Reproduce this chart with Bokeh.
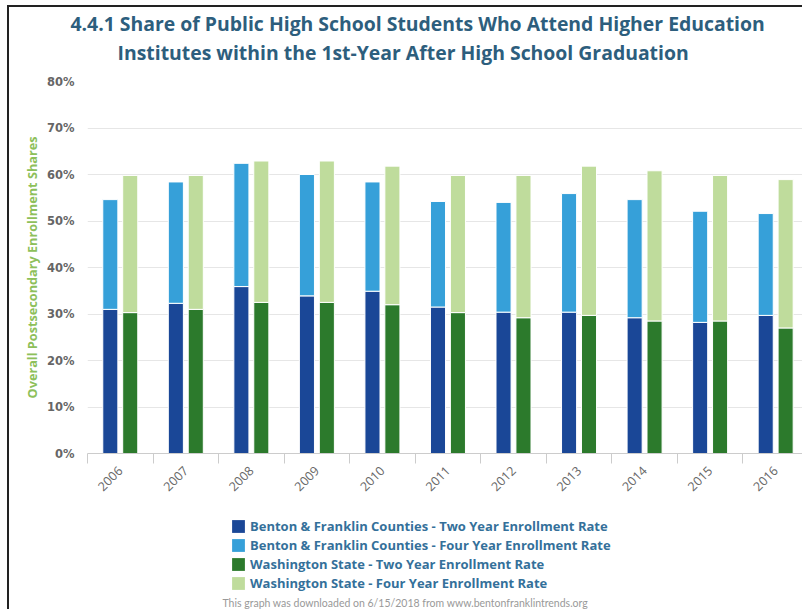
import numpy as np
from bokeh.plotting import figure
from bokeh.layouts import column
from bokeh.models import (ColumnDataSource, Range1d, FixedTicker, Legend, LegendItem,
                          Title, PrintfTickFormatter, Label)
from bokeh.transform import dodge
from bokeh.embed import file_html
from bokeh.resources import INLINE

years = ["2006", "2007", "2008", "2009", "2010", "2011", "2012", "2013", "2014", "2015", "2016"]
bf_two = [31.0, 32.3, 35.9, 33.9, 34.9, 31.5, 30.4, 30.4, 29.2, 28.2, 29.7]
bf_four = [23.6, 26.1, 26.5, 26.1, 23.5, 22.7, 23.6, 25.5, 25.4, 23.9, 21.9]
wa_two = [30.3, 31.0, 32.5, 32.5, 32.0, 30.3, 29.2, 29.7, 28.5, 28.5, 27.0]
wa_four = [29.5, 28.8, 30.4, 30.4, 29.8, 29.5, 30.6, 32.1, 32.3, 31.3, 31.9]
y_ticks = [0, 10, 20, 30, 40, 50, 60, 70, 80]

series_names = [
    "Benton & Franklin Counties - Two Year Enrollment Rate",
    "Benton & Franklin Counties - Four Year Enrollment Rate",
    "Washington State - Two Year Enrollment Rate",
    "Washington State - Four Year Enrollment Rate",
]
series_cols = ["bf_two", "bf_four", "wa_two", "wa_four"]
colors = ["#1a4797", "#36a0d9", "#2c7a2c", "#bfdc9c"]
footer_text = "This graph was downloaded on 6/15/2018 from www.bentonfranklintrends.org"

idx = list(range(len(years)))
src = ColumnDataSource(dict(idx=idx, bf_two=bf_two, bf_four=bf_four, wa_two=wa_two, wa_four=wa_four))

FONT = "Open Sans"

p = figure(width=795, height=498, output_backend="svg", toolbar_location=None,
           x_range=Range1d(-0.5, 10.44), y_range=Range1d(0, 80),
           min_border_left=78, min_border_right=0, min_border_top=0, min_border_bottom=52)
p.styles = {"margin-left": "7px", "margin-top": "5px",
            "border-top": "2px solid #222", "border-left": "2px solid #222"}
p.outline_line_color = None
p.background_fill_color = "white"

bf = p.vbar_stack(["bf_two", "bf_four"], x=dodge("idx", -0.152, range=p.x_range), width=0.23,
                  color=colors[:2], line_color="white", line_width=1, source=src)
wa = p.vbar_stack(["wa_two", "wa_four"], x=dodge("idx", 0.152, range=p.x_range), width=0.23,
                  color=colors[2:], line_color="white", line_width=1, source=src)

# axes
p.xaxis.ticker = FixedTicker(ticks=idx, minor_ticks=[i - 0.5 for i in range(len(years) + 1)])
p.xaxis.major_label_overrides = {i: y for i, y in zip(idx, years)}
p.xaxis.major_label_orientation = np.pi / 4
p.xaxis.major_tick_line_color = None
p.xaxis.minor_tick_line_color = "#cccccc"
p.xaxis.minor_tick_out = 10
p.xaxis.minor_tick_in = 0
p.xaxis.axis_line_color = "#cccccc"
p.xaxis.major_label_text_font = FONT
p.xaxis.major_label_text_font_size = "12.5px"
p.xaxis.major_label_text_color = "#666666"
p.xaxis.major_label_standoff = 5
p.xgrid.grid_line_color = None

p.yaxis.ticker = FixedTicker(ticks=y_ticks)
p.yaxis.formatter = PrintfTickFormatter(format="%d%%")
p.yaxis.axis_line_color = None
p.yaxis.major_tick_line_color = None
p.yaxis.minor_tick_line_color = None
p.yaxis.major_label_text_font = "DejaVu Sans"
p.yaxis.major_label_text_font_style = "bold"
p.yaxis.major_label_text_font_size = "11.5px"
p.yaxis.major_label_text_color = "#666666"
p.yaxis.major_label_standoff = 7
p.yaxis.axis_label = "Overall Postsecondary Enrollment Shares"
p.yaxis.axis_label_text_font = FONT
p.yaxis.axis_label_text_font_size = "12.7px"
p.yaxis.axis_label_text_font_style = "bold"
p.yaxis.axis_label_text_color = "#8dc05a"
p.yaxis.axis_label_standoff = 3
p.ygrid.grid_line_color = "#e6e6e6"

# titles (first added = closest to the frame)
spacer = Title(text=" ", text_font_size="12px", standoff=0)
t2 = Title(text="Institutes within the 1st-Year After High School Graduation", align="left",
           text_font=FONT, text_font_style="bold", text_font_size="19.4px", text_color="#2d5e7d",
           offset=30, standoff=0)
t1 = Title(text="4.4.1 Share of Public High School Students Who Attend Higher Education", align="left",
           text_font=FONT, text_font_style="bold", text_font_size="19.4px", text_color="#2d5e7d",
           offset=-17, standoff=0)
p.add_layout(spacer, "above")
p.add_layout(t2, "above")
p.add_layout(t1, "above")

# legend and footer panel (its frame is aligned with the main frame by the column)
p2 = figure(width=795, height=106, output_backend="svg", toolbar_location=None,
            x_range=Range1d(0, 795), y_range=Range1d(0, 106),
            x_axis_location=None, y_axis_location=None, min_border=0)
p2.styles = {"margin-left": "7px", "border-left": "2px solid #222"}
p2.outline_line_color = None
p2.grid.visible = False
keys = [p2.vbar(x="idx", top=c, width=0.23, color=col, line_color=None, source=src, visible=False)
        for c, col in zip(series_cols, colors)]

items = [LegendItem(label=n, renderers=[r]) for n, r in zip(series_names, keys)]
legend = Legend(items=items, orientation="vertical", location=(143, 17),
                label_text_font=FONT, label_text_font_style="bold", label_text_font_size="13px",
                label_text_color="#34709a", glyph_width=16, glyph_height=16, label_height=16,
                spacing=1, padding=0, margin=0, border_line_color=None,
                background_fill_alpha=0, label_standoff=4, inactive_fill_alpha=0)
p2.add_layout(legend, "center")

foot = Label(x=135, y=7, x_units="screen", y_units="screen", text=footer_text,
             text_font="Lato", text_font_size="10.5px", text_color="#999999", text_baseline="middle")
p2.add_layout(foot)

layout = column(p, p2, spacing=0)
open("out.html", "w").write(file_html(layout, INLINE))
